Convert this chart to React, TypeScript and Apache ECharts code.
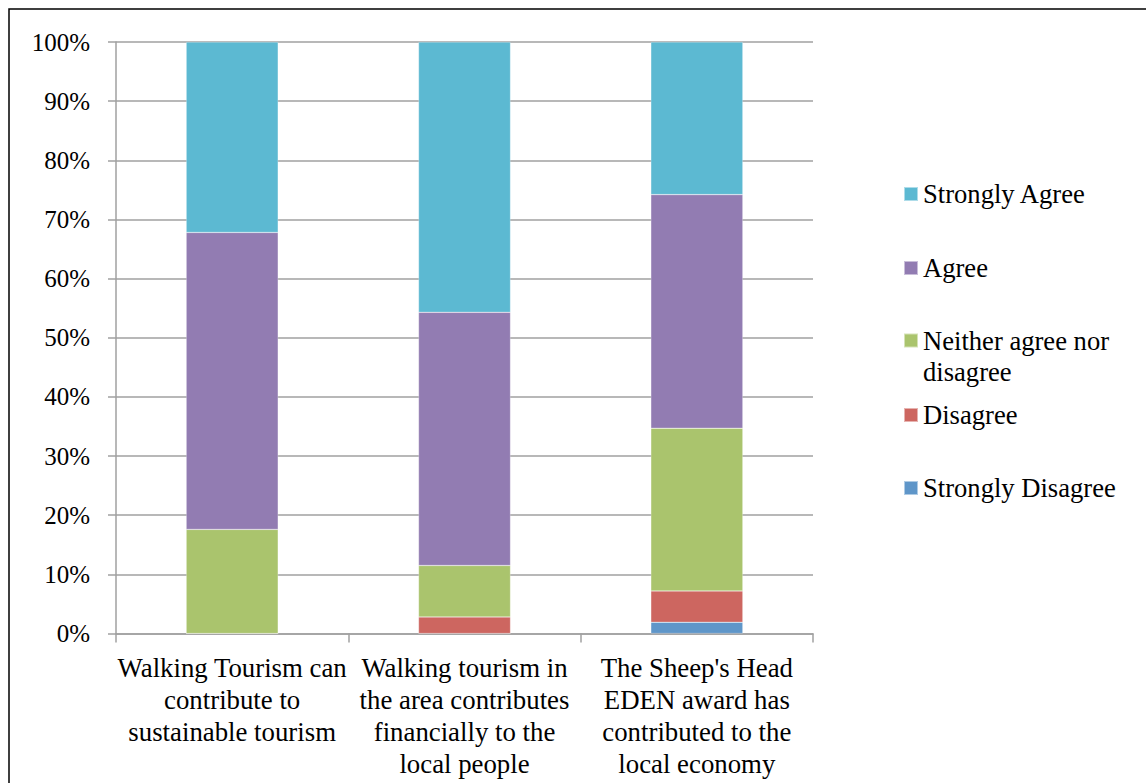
import React, { useEffect, useRef } from "react";
import * as echarts from "echarts";

const categories = [
  "Walking Tourism can\ncontribute to\nsustainable tourism",
  "Walking tourism in\nthe area contributes\nfinancially to the\nlocal people",
  "The Sheep's Head\nEDEN award has\ncontributed to the\nlocal economy",
];

const seriesNames = [
  "Strongly Disagree",
  "Disagree",
  "Neither agree nor disagree",
  "Agree",
  "Strongly Agree",
];

const stronglyDisagree = [0, 0, 1.9];
const disagree = [0, 2.8, 5.3];
const neither = [17.6, 8.7, 27.5];
const agree = [50.2, 42.8, 39.5];
const stronglyAgree = [32.2, 45.7, 25.8];

const colors = ["#5f96c9", "#cd6660", "#aac46d", "#927cb2", "#5cb9d2"];

const FONT = "Times New Roman, Times, serif";

export default function App() {
  const ref = useRef<HTMLDivElement>(null);

  useEffect(() => {
    document.body.style.margin = "0";
    const chart = echarts.init(ref.current!, undefined, { renderer: "svg" });
    const values = [stronglyDisagree, disagree, neither, agree, stronglyAgree];

    const legendTops: Record<string, number> = {
      "Strongly Agree": 179,
      Agree: 253,
      "Neither agree nor disagree": 294,
      Disagree: 400,
      "Strongly Disagree": 473,
    };

    const legends = seriesNames
      .slice()
      .reverse()
      .map((name) => {
        const isMulti = name === "Neither agree nor disagree";
        return {
          data: [name],
          left: 903,
          top: legendTops[name],
          orient: "vertical",
          itemWidth: 14,
          itemHeight: 14,
          icon: "rect",
          selectedMode: false,
          padding: 0,
          formatter: (n: string) =>
            n === "Neither agree nor disagree" ? "\nNeither agree nor\ndisagree" : n,
          textStyle: {
            fontFamily: FONT,
            fontSize: 26.6,
            color: "#000",
            lineHeight: isMulti ? 31 : 30,
          },
        };
      });

    chart.setOption({
      animation: false,
      textStyle: { fontFamily: FONT },
      graphic: [
        {
          type: "rect",
          shape: { x: 9, y: 9, width: 1160, height: 800 },
          style: { fill: "none", stroke: "#000", lineWidth: 1.5 },
          silent: true,
        },
      ],
      legend: legends,
      grid: { left: 116, right: 333, top: 42, bottom: 149.5, containLabel: false },
      xAxis: {
        type: "category",
        data: categories,
        axisLine: { show: true, lineStyle: { color: "#a0a0a0", width: 1.5 } },
        axisTick: { show: true, length: 9, alignWithLabel: false, lineStyle: { color: "#a0a0a0", width: 1.5 } },
        axisLabel: {
          interval: 0,
          margin: 18,
          fontFamily: FONT,
          fontSize: 26.8,
          lineHeight: 32,
          color: "#000",
          align: "center",
        },
      },
      yAxis: {
        type: "value",
        min: 0,
        max: 100,
        interval: 10,
        axisLine: { show: true, lineStyle: { color: "#a0a0a0", width: 1.5 } },
        axisTick: { show: true, length: 8, lineStyle: { color: "#a0a0a0", width: 1.5 } },
        splitLine: { show: true, lineStyle: { color: "#a0a0a0", width: 1.5 } },
        axisLabel: {
          formatter: "{value}%",
          margin: 26,
          fontFamily: FONT,
          fontSize: 25,
          color: "#000",
        },
      },
      series: seriesNames.map((name, i) => ({
        name,
        type: "bar",
        stack: "total",
        barWidth: 92,
        data: values[i],
        itemStyle: {
          color: colors[i],
          borderColor: "rgba(255,255,255,0.5)",
          borderWidth: 0.5,
        },
        emphasis: { disabled: true },
      })),
    });

    return () => chart.dispose();
  }, []);

  return <div ref={ref} style={{ width: 1146, height: 783 }} />;
}
